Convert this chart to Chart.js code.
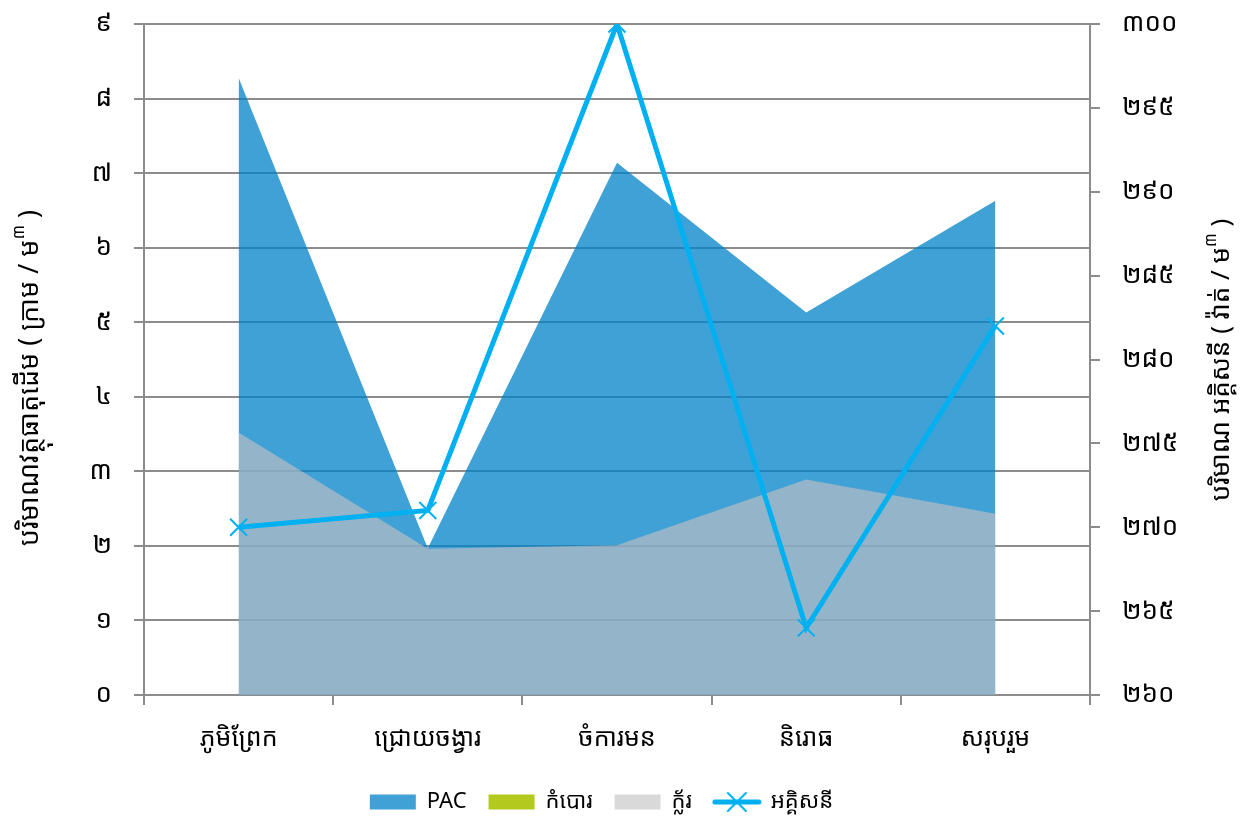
<!DOCTYPE html>
<html>
<head>
<meta charset="utf-8">
<script src="https://cdn.jsdelivr.net/npm/chart.js@4.4.1/dist/chart.umd.min.js"></script>
<style>
  html, body { margin: 0; padding: 0; background: #fff; }
  #contenedor { width: 1247px; height: 829px; }
</style>
</head>
<body>
<div id="contenedor"><canvas id="grafico"></canvas></div>
<script>
// datos
const categorias = ['ភូមិព្រែក', 'ជ្រោយចង្វារ', 'ចំការមន', 'និរោធ', 'សរុបរួម'];
const pac = [8.28, 1.97, 7.14, 5.13, 6.63];
const kombor = [0, 0, 0, 0, 0];
const klor = [3.52, 1.96, 2.01, 2.89, 2.43];
const akkisani = [270.0, 271.0, 300.0, 264.0, 282.0];
const digitos = ['០', '១', '២', '៣', '៤', '៥', '៦', '៧', '៨', '៩'];

const fuente = "'Noto Sans Khmer', 'Khmer OS', 'Khmer OS System', 'Noto Sans', sans-serif";
const gris = '#8c8c8c';

function khmer(n) {
  return String(n).split('').map(d => digitos[+d] || d).join('');
}

// icono de leyenda para la linea (linea + cruz)
function iconoLinea() {
  const c = document.createElement('canvas');
  c.width = 50; c.height = 24;
  const g = c.getContext('2d');
  g.strokeStyle = '#00b0f0';
  g.lineCap = 'round';
  g.lineWidth = 5;
  g.beginPath(); g.moveTo(3, 12); g.lineTo(47, 12); g.stroke();
  g.lineWidth = 2;
  g.beginPath();
  g.moveTo(16, 3); g.lineTo(34, 21);
  g.moveTo(34, 3); g.lineTo(16, 21);
  g.stroke();
  return c;
}

// titulos de ejes girados con el ៣ en superindice
function tituloGirado(ctx, x, y, t, a, sup, b) {
  ctx.save();
  ctx.translate(x, y);
  ctx.rotate(-Math.PI / 2);
  ctx.fillStyle = '#000';
  ctx.textBaseline = 'middle';
  ctx.textAlign = 'left';
  const f1 = t + 'px ' + fuente;
  const f2 = Math.round(t * 0.62) + 'px ' + fuente;
  ctx.font = f1;
  const wa = ctx.measureText(a).width;
  const wb = ctx.measureText(b).width;
  ctx.font = f2;
  const ws = ctx.measureText(sup).width;
  let x0 = -(wa + ws + wb) / 2;
  ctx.font = f1;
  ctx.fillText(a, x0, 0);
  ctx.font = f2;
  ctx.fillText(sup, x0 + wa, -t * 0.42);
  ctx.font = f1;
  ctx.fillText(b, x0 + wa + ws, 0);
  ctx.restore();
}

const titulos = {
  id: 'titulos',
  afterLayout(chart) {
    // la leyenda del original queda un poco a la izquierda
    if (chart.legend) chart.legend.right -= 44;
  },
  afterDraw(chart) {
    const ctx = chart.ctx;
    tituloGirado(ctx, 30, 378, 27, 'បរិមាណវត្ថុធាតុដើម ( ក្រាម / ម', '៣', ' )');
    tituloGirado(ctx, 1222, 360, 26, 'បរិមាណ អគ្គិសនី ( វ៉ាត់ / ម', '៣', ' )');
  }
};

const rellenos = ['#40a1d6', '#b3c91d', '#d9d9d9'];

const ctx = document.getElementById('grafico').getContext('2d');
new Chart(ctx, {
  type: 'line',
  data: {
    labels: categorias,
    datasets: [
      {
        label: 'PAC',
        data: pac,
        yAxisID: 'y',
        backgroundColor: 'rgba(0,130,200,0.75)',
        borderWidth: 0,
        pointRadius: 0,
        fill: 'origin',
        order: 3
      },
      {
        label: 'កំបោរ',
        data: kombor,
        yAxisID: 'y',
        backgroundColor: '#b3c91d',
        borderWidth: 0,
        pointRadius: 0,
        fill: 'origin',
        order: 2
      },
      {
        label: 'ក្ល័រ',
        data: klor,
        yAxisID: 'y',
        backgroundColor: 'rgba(204,193,191,0.6)',
        borderWidth: 0,
        pointRadius: 0,
        fill: 'origin',
        order: 1
      },
      {
        label: 'អគ្គិសនី',
        data: akkisani,
        yAxisID: 'y1',
        borderColor: '#00b0f0',
        backgroundColor: '#00b0f0',
        borderWidth: 5,
        tension: 0,
        fill: false,
        pointStyle: 'crossRot',
        pointRadius: 12,
        pointBorderWidth: 2,
        pointHoverRadius: 12,
        order: 0
      }
    ]
  },
  options: {
    responsive: true,
    maintainAspectRatio: false,
    animation: false,
    layout: { padding: { top: 24, right: 0, bottom: 6, left: 0 } },
    plugins: {
      tooltip: { enabled: false },
      legend: {
        position: 'bottom',
        labels: {
          usePointStyle: true,
          pointStyleWidth: 46,
          boxHeight: 15,
          padding: 22,
          color: '#000',
          font: { size: 22, family: fuente },
          sort: (a, b) => a.datasetIndex - b.datasetIndex,
          generateLabels(chart) {
            const items = Chart.defaults.plugins.legend.labels.generateLabels(chart);
            items.forEach(it => {
              const i = it.datasetIndex;
              if (i < 3) {
                it.pointStyle = 'rect';
                it.fillStyle = rellenos[i];
                it.strokeStyle = rellenos[i];
                it.lineWidth = 0;
              } else {
                it.pointStyle = iconoLinea();
              }
            });
            return items;
          }
        }
      }
    },
    scales: {
      x: {
        offset: true,
        grid: { offset: true, drawOnChartArea: false, color: gris, lineWidth: 2, tickLength: 10 },
        border: { color: gris, width: 2 },
        ticks: { color: '#000', font: { size: 25, family: fuente }, padding: 19, maxRotation: 0 },
        afterFit(s) { s.height -= 4; }
      },
      y: {
        position: 'left',
        min: 0,
        max: 9,
        ticks: { stepSize: 1, color: '#000', font: { size: 26, family: fuente }, padding: 22, callback: v => khmer(v) },
        grid: { color: gris, lineWidth: 2, tickLength: 10 },
        border: { color: gris, width: 2 },
        afterFit(s) { s.width = 144; s.paddingTop = 0; s.paddingBottom = 0; }
      },
      y1: {
        position: 'right',
        min: 260,
        max: 300,
        ticks: { stepSize: 5, color: '#000', font: { size: 26, family: fuente }, padding: 22, callback: v => khmer(v) },
        grid: { drawOnChartArea: false, color: gris, lineWidth: 2, tickLength: 10 },
        border: { color: gris, width: 2 },
        afterFit(s) { s.width = 157; s.paddingTop = 0; s.paddingBottom = 0; }
      }
    }
  },
  plugins: [titulos]
});
</script>
</body>
</html>
